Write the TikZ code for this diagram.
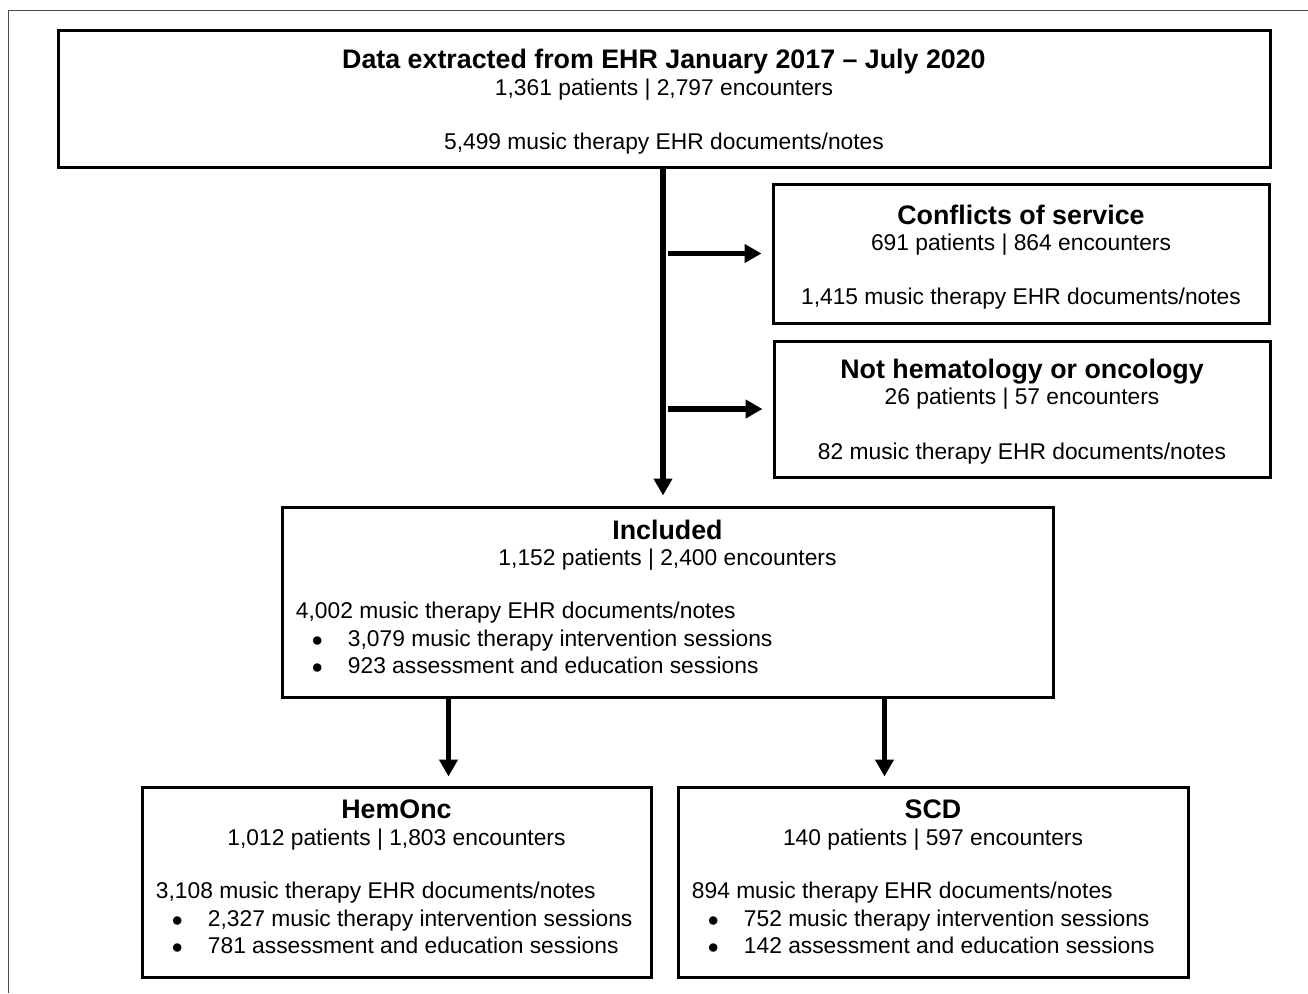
\documentclass[tikz,border=0pt]{standalone}
\usepackage{fontspec}
\setmainfont{Liberation Sans}
\usetikzlibrary{positioning,arrows.meta}
\setlength{\parindent}{0pt}
\newcommand{\ttl}[1]{{\fontsize{13.4}{16}\selectfont\bfseries #1}}
\newcommand{\bul}{\hspace*{8pt}\makebox[18pt][l]{$\bullet$}}

\begin{document}
\begin{tikzpicture}[x=0.5pt, y=-0.5pt,
    box/.style={draw, line width=1.5pt, inner sep=0pt},
    txt/.style={inner sep=0pt, align=center, font=\fontsize{11.4}{13.6}\selectfont},
    arr/.style={line width=2.6pt, -{Triangle[length=8.5pt,width=9pt]}, shorten >=5pt}]
    \useasboundingbox (0,0) rectangle (1308,993);
    \draw[black!70, line width=0.6pt] (8.5,993) |- (1308,10.5);

    \node[box, minimum width=606pt, minimum height=68.5pt] (top) at (664,98.5) {};
    \node[box, minimum width=248pt, minimum height=69.5pt] (conf) at (1021,253.5) {};
    \node[box, minimum width=248pt, minimum height=68pt] (nothem) at (1022,409) {};
    \node[box, minimum width=385.5pt, minimum height=95pt] (incl) at (667.5,602) {};
    \node[box, minimum width=254.5pt, minimum height=95pt] (hem) at (396.5,882) {};
    \node[box, minimum width=255pt, minimum height=95pt] (scd) at (933,882) {};

    \node[txt, below=10.3pt of top.north] (top-t) {\ttl{Data extracted from EHR January 2017 – July 2020}\\[-0.5pt]1,361 patients | 2,797 encounters\\[13.6pt]5,499 music therapy EHR documents/notes};
    \node[txt, below=11pt of conf.north] (conf-t) {\ttl{Conflicts of service}\\[-0.5pt]691 patients | 864 encounters\\[13.6pt]1,415 music therapy EHR documents/notes};
    \node[txt, below=9.7pt of nothem.north] (nothem-t) {\ttl{Not hematology or oncology}\\[-0.5pt]26 patients | 57 encounters\\[13.6pt]82 music therapy EHR documents/notes};

    \node[txt, below=7.2pt of incl.north] (incl-t) {\ttl{Included}\\[-0.5pt]1,152 patients | 2,400 encounters};
    \node[txt, align=left, below right=48.25pt and 7.5pt of incl.north west] (incl-l) {4,002 music therapy EHR documents/notes\\\bul 3,079 music therapy intervention sessions\\\bul 923 assessment and education sessions};
    \node[txt, below=7.1pt of hem.north] (hem-t) {\ttl{HemOnc}\\[-0.5pt]1,012 patients | 1,803 encounters};
    \node[txt, align=left, below right=48.25pt and 7.5pt of hem.north west] (hem-l) {3,108 music therapy EHR documents/notes\\\bul 2,327 music therapy intervention sessions\\\bul 781 assessment and education sessions};
    \node[txt, below=7.1pt of scd.north] (scd-t) {\ttl{SCD}\\[-0.5pt]140 patients | 597 encounters};
    \node[txt, align=left, below right=48.25pt and 7.5pt of scd.north west] (scd-l) {894 music therapy EHR documents/notes\\\bul 752 music therapy intervention sessions\\\bul 142 assessment and education sessions};

    \coordinate (trunk) at ([xshift=-0.5pt]top.south);
    \coordinate (inclL) at ([xshift=84pt]incl.south west);
    \coordinate (inclR) at ([xshift=-85pt]incl.south east);
    \draw[arr] (trunk) -- (trunk |- incl.north);
    \draw[arr, shorten <=2.5pt] (trunk |- conf.west) -- (conf.west);
    \draw[arr, shorten <=2.5pt] (trunk |- nothem.west) -- (nothem.west);
    \draw[arr, shorten >=4.5pt] (inclL) -- (inclL |- hem.north);
    \draw[arr, shorten >=4.5pt] (inclR) -- (inclR |- scd.north);
\end{tikzpicture}
\end{document}
